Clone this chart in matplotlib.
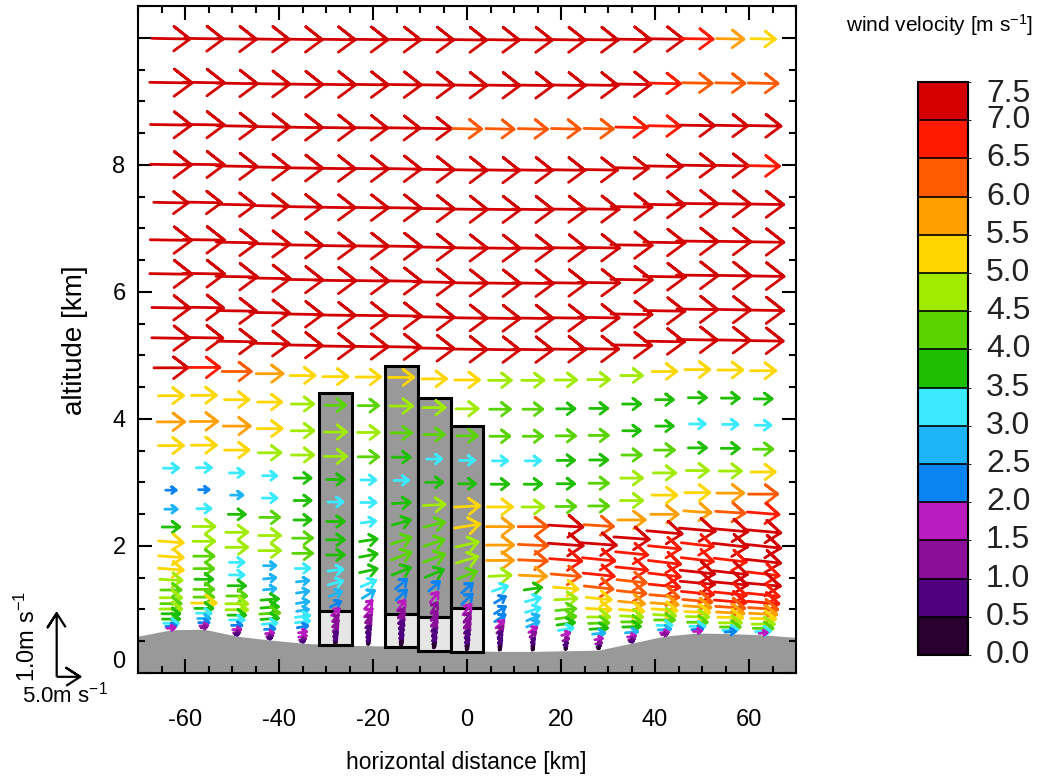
import numpy as np
import matplotlib
matplotlib.use('Agg')
import matplotlib.pyplot as plt
import matplotlib.cm as cm
from matplotlib.collections import LineCollection
from matplotlib.colors import ListedColormap, BoundaryNorm
from matplotlib.patches import Rectangle
from matplotlib.transforms import blended_transform_factory
from matplotlib.ticker import MultipleLocator

plt.rcParams['font.family'] = ['Liberation Sans', 'DejaVu Sans']
plt.rcParams['mathtext.fontset'] = 'custom'
plt.rcParams['mathtext.rm'] = 'Liberation Sans'
plt.rcParams['mathtext.it'] = 'Liberation Sans'
plt.rcParams['axes.unicode_minus'] = False

# grid columns (km) and model levels (km above flat ground)
col_x = [-63, -56, -49, -42, -35, -28, -21, -14, -7, 0, 7, 14, 21, 28, 35, 42, 49, 56, 63]
level_z = [9.95, 9.21, 8.50, 7.83, 7.19, 6.56, 5.99, 5.42, 4.91, 4.41, 3.94, 3.50, 3.10, 2.72,
           2.35, 2.03, 1.73, 1.48, 1.23, 1.02, 0.84, 0.67, 0.54, 0.44, 0.35, 0.27, 0.18, 0.11,
           0.06, 0.03]
model_top = 10.5

# terrain profile
terrain_x = [-70, -63, -56, -49, -42, -35, -28, -21, -14, -7, 0, 7, 14, 21, 28, 35, 42, 49, 56, 63, 70]
terrain_z = [0.58, 0.68, 0.69, 0.58, 0.52, 0.47, 0.44, 0.43, 0.42, 0.38, 0.35, 0.34, 0.34, 0.35,
             0.36, 0.47, 0.58, 0.63, 0.62, 0.60, 0.56]

# boxes over four columns
box_x = [-28, -14, -7, 0]
box_top = [4.41, 4.83, 4.33, 3.89]
box_mid = [0.98, 0.93, 0.88, 1.02]
box_base = [0.44, 0.41, 0.35, 0.33]

# horizontal wind (m/s), one row per level, one value per column
u_wind = [
    [8.1, 8.3, 8.4, 8.4, 8.4, 8.4, 8.3, 8.3, 8.3, 8.3, 8.3, 8.3, 8.3, 8.3, 8.3, 8.1, 6.7, 5.8, 5.2],
    [9.0, 8.8, 8.8, 8.6, 8.6, 8.6, 8.5, 8.5, 8.5, 8.5, 8.5, 8.5, 8.4, 8.3, 8.2, 6.8, 6.3, 6.2, 6.3],
    [8.7, 8.7, 8.6, 8.6, 8.5, 8.4, 8.2, 8.0, 7.4, 6.2, 6.0, 6.2, 6.1, 6.2, 6.7, 6.8, 7.3, 7.4, 7.6],
    [8.7, 8.7, 8.7, 8.6, 8.6, 8.5, 8.5, 8.5, 8.5, 8.5, 8.4, 8.4, 8.2, 8.0, 7.2, 7.6, 7.8, 7.8, 6.9],
    [7.3, 7.5, 7.8, 8.0, 8.2, 8.4, 8.5, 8.6, 8.7, 8.7, 8.7, 8.7, 8.7, 8.7, 8.7, 8.7, 8.7, 8.7, 8.7],
    [8.8, 8.8, 8.7, 8.7, 8.6, 8.6, 8.6, 8.7, 8.7, 8.7, 8.7, 8.7, 8.8, 8.8, 8.8, 8.8, 8.8, 8.8, 8.8],
    [9.0, 8.9, 8.8, 8.8, 8.7, 8.7, 8.7, 8.7, 8.7, 8.7, 8.8, 8.8, 8.8, 8.8, 8.8, 8.9, 8.9, 8.9, 8.9],
    [8.1, 8.3, 8.4, 8.5, 8.5, 8.5, 8.5, 8.6, 8.6, 8.6, 8.6, 8.7, 8.7, 8.7, 8.7, 8.7, 8.7, 8.7, 8.7],
    [8.1, 8.1, 8.2, 8.3, 8.4, 8.4, 8.4, 8.4, 8.5, 8.5, 8.5, 8.5, 8.5, 8.5, 8.5, 8.5, 8.5, 8.5, 8.5],
    [7.2, 6.8, 6.2, 5.7, 5.3, 5.3, 5.2, 5.3, 5.2, 5.2, 4.8, 4.7, 4.6, 4.6, 4.6, 5.2, 5.3, 5.3, 5.3],
    [5.3, 5.3, 5.2, 5.1, 4.7, 4.3, 4.3, 4.8, 4.7, 4.7, 4.4, 4.2, 3.9, 3.8, 3.8, 3.8, 3.8, 3.8, 3.8],
    [5.8, 5.8, 5.7, 5.3, 4.8, 4.7, 4.6, 4.3, 4.3, 4.3, 4.2, 4.1, 4.1, 4.1, 3.7, 3.7, 3.3, 3.3, 3.3],
    [5.3, 5.3, 5.2, 4.8, 4.7, 4.7, 4.3, 3.8, 3.2, 3.2, 3.2, 3.2, 3.7, 3.8, 4.1, 4.2, 3.8, 3.8, 4.1],
    [3.2, 3.2, 3.1, 3.0, 3.6, 3.7, 3.2, 3.1, 3.6, 3.6, 3.7, 3.7, 3.7, 4.1, 4.6, 4.7, 4.7, 4.7, 5.1],
    [2.2, 2.2, 2.6, 3.1, 3.6, 3.2, 3.2, 3.8, 4.6, 5.3, 5.3, 4.6, 4.2, 4.2, 4.7, 5.3, 5.3, 5.7, 6.2],
    [2.6, 3.0, 3.6, 4.2, 3.6, 3.7, 3.1, 3.8, 4.3, 5.3, 5.8, 6.2, 7.3, 6.3, 5.8, 5.8, 5.8, 6.2, 6.7],
    [3.7, 4.7, 4.6, 4.6, 4.2, 3.8, 3.7, 4.1, 4.2, 4.7, 5.8, 6.2, 7.4, 7.5, 7.5, 7.5, 7.6, 7.5, 7.5],
    [5.2, 4.6, 4.6, 4.6, 4.2, 3.7, 3.7, 4.1, 4.4, 4.6, 5.7, 6.1, 6.8, 6.9, 6.8, 6.8, 6.8, 7.3, 7.5],
    [5.2, 4.3, 3.1, 2.6, 3.1, 3.2, 3.7, 3.9, 3.9, 4.0, 4.7, 5.8, 6.2, 6.6, 6.7, 6.8, 6.8, 6.8, 7.4],
    [5.2, 4.2, 3.1, 2.6, 2.6, 3.1, 3.1, 2.4, 2.3, 2.3, 3.2, 3.7, 5.2, 6.1, 6.2, 6.7, 7.3, 7.3, 6.8],
    [4.7, 3.8, 3.7, 2.6, 2.6, 2.6, 2.6, 2.2, 1.7, 2.2, 2.3, 3.2, 4.7, 5.3, 6.1, 6.5, 7.3, 7.3, 7.3],
    [4.3, 4.2, 4.2, 3.7, 2.6, 2.2, 1.6, 1.6, 1.3, 1.7, 2.3, 3.1, 4.2, 5.2, 5.5, 6.2, 6.8, 6.8, 6.8],
    [4.6, 4.2, 4.6, 3.7, 2.5, 1.7, 1.6, 1.2, 1.2, 1.3, 2.2, 2.6, 4.2, 4.7, 5.2, 5.8, 6.2, 6.7, 6.7],
    [4.3, 5.2, 4.6, 4.2, 3.0, 1.2, 1.2, 1.0, 1.1, 1.2, 1.7, 2.6, 3.7, 4.3, 4.7, 5.3, 5.8, 6.2, 6.2],
    [4.6, 3.8, 3.7, 3.7, 3.0, 1.2, 1.1, 0.8, 1.0, 1.1, 1.3, 1.7, 3.1, 3.7, 4.2, 4.7, 5.3, 5.8, 5.8],
    [3.8, 3.1, 3.1, 3.1, 2.2, 1.0, 0.8, 0.7, 0.8, 0.8, 0.8, 1.2, 1.7, 2.6, 3.7, 4.2, 4.7, 5.3, 5.3],
    [3.6, 2.6, 2.2, 2.2, 1.7, 0.8, 0.7, 0.6, 0.7, 0.7, 0.7, 0.7, 1.2, 1.6, 2.6, 3.2, 4.2, 4.7, 4.7],
    [3.1, 2.2, 1.7, 1.7, 1.6, 0.6, 0.6, 0.5, 0.6, 0.6, 0.5, 0.5, 0.8, 1.2, 1.7, 2.6, 3.2, 4.2, 4.2],
    [2.2, 1.7, 1.3, 1.2, 1.2, 0.5, 0.5, 0.4, 0.4, 0.4, 0.4, 0.4, 0.5, 0.7, 1.2, 1.7, 2.3, 3.2, 3.2],
    [1.7, 1.2, 0.8, 0.8, 0.8, 0.3, 0.3, 0.3, 0.3, 0.3, 0.3, 0.3, 0.3, 0.4, 0.8, 1.2, 1.7, 2.2, 1.7],
]

# vertical wind (m/s)
w_wind = [
    [-0.01, -0.01, -0.01, -0.01, -0.01, -0.01, -0.01, -0.01, -0.01, -0.01, -0.01, -0.01, -0.01, -0.01, -0.01, -0.01, -0.01, -0.01, -0.01],
    [-0.01, -0.01, -0.01, -0.01, -0.01, -0.01, -0.01, -0.01, -0.01, -0.01, -0.01, -0.01, -0.01, -0.01, -0.01, -0.01, -0.01, -0.01, -0.01],
    [-0.01, -0.01, -0.01, -0.01, -0.01, -0.01, -0.01, -0.01, -0.01, -0.01, -0.01, -0.01, -0.01, -0.01, -0.01, -0.01, -0.01, -0.01, -0.01],
    [-0.01, -0.01, -0.01, -0.01, -0.01, -0.01, -0.01, -0.01, -0.01, -0.01, -0.01, -0.01, -0.01, -0.01, -0.01, -0.01, -0.01, -0.01, -0.01],
    [-0.01, -0.01, -0.01, -0.01, -0.01, -0.01, -0.01, -0.01, -0.01, -0.01, -0.01, -0.01, -0.01, -0.01, -0.01, -0.01, -0.01, -0.01, -0.01],
    [-0.01, -0.01, -0.01, -0.01, -0.01, -0.01, -0.01, -0.01, -0.01, -0.01, -0.01, -0.01, -0.01, -0.01, -0.01, -0.01, -0.01, -0.01, -0.01],
    [-0.01, -0.01, -0.01, -0.01, -0.01, -0.01, -0.01, -0.01, -0.01, -0.01, -0.01, -0.01, -0.01, -0.01, -0.01, -0.01, -0.01, -0.01, -0.01],
    [-0.01, -0.01, -0.01, -0.01, -0.01, -0.01, -0.01, -0.01, -0.01, -0.01, -0.01, -0.01, -0.01, -0.01, -0.01, -0.01, -0.01, -0.01, -0.01],
    [-0.01, -0.01, -0.01, -0.01, -0.01, -0.01, -0.01, -0.01, -0.01, -0.01, -0.01, -0.01, -0.01, -0.01, -0.01, -0.01, -0.01, -0.01, -0.01],
    [0.0, 0.0, 0.0, 0.0, 0.0, 0.0, 0.0, 0.0, 0.0, 0.0, 0.0, 0.0, 0.0, 0.0, 0.0, 0.0, 0.0, 0.0, 0.0],
    [0.0, 0.0, 0.0, 0.0, 0.0, 0.0, 0.0, 0.0, 0.0, 0.0, 0.0, 0.0, 0.0, 0.0, 0.0, 0.0, 0.0, 0.0, 0.0],
    [0.0, 0.0, 0.0, 0.0, 0.0, 0.0, 0.0, 0.0, 0.0, 0.0, 0.0, 0.0, 0.0, 0.0, 0.0, 0.0, 0.0, 0.0, 0.0],
    [0.0, 0.0, 0.0, 0.0, 0.0, 0.0, 0.0, 0.0, 0.0, 0.0, 0.0, 0.0, 0.0, 0.0, 0.0, 0.0, 0.0, 0.0, 0.0],
    [0.0, 0.0, 0.0, 0.0, 0.0, 0.0, 0.0, 0.0, 0.0, 0.0, 0.0, 0.0, 0.0, 0.0, 0.0, 0.0, 0.0, 0.0, 0.0],
    [0.0, 0.0, 0.0, 0.0, 0.0, 0.0, 0.0, 0.02, 0.02, 0.02, 0.0, 0.0, 0.0, 0.0, 0.0, 0.0, 0.0, 0.0, 0.0],
    [0.0, 0.0, 0.0, 0.0, 0.0, 0.0, 0.03, 0.08, 0.08, 0.06, 0.0, 0.0, -0.03, -0.03, 0.0, 0.0, -0.03, -0.03, -0.04],
    [0.0, 0.0, 0.0, 0.0, 0.0, 0.0, 0.04, 0.10, 0.10, 0.08, 0.0, -0.02, -0.04, -0.04, -0.04, -0.05, -0.05, -0.05, -0.05],
    [-0.03, 0.0, 0.0, 0.0, 0.0, 0.0, 0.05, 0.12, 0.12, 0.10, 0.0, -0.02, -0.04, -0.05, -0.05, -0.05, -0.06, -0.06, -0.06],
    [-0.03, 0.0, 0.0, 0.0, 0.0, 0.03, 0.06, 0.12, 0.12, 0.12, 0.02, -0.02, -0.04, -0.05, -0.05, -0.06, -0.06, -0.06, -0.06],
    [-0.03, 0.0, 0.0, 0.02, 0.02, 0.06, 0.10, 0.15, 0.15, 0.15, 0.08, 0.04, -0.03, -0.05, -0.05, -0.06, -0.06, -0.06, -0.06],
    [-0.02, 0.0, 0.0, 0.02, 0.03, 0.08, 0.12, 0.16, 0.16, 0.16, 0.10, 0.06, 0.02, -0.04, -0.05, -0.05, -0.05, -0.05, -0.05],
    [0.0, 0.0, 0.0, 0.02, 0.03, 0.09, 0.13, 0.16, 0.16, 0.16, 0.11, 0.07, 0.03, -0.02, -0.04, -0.04, -0.05, -0.05, -0.05],
    [0.0, 0.0, 0.0, 0.02, 0.03, 0.10, 0.13, 0.15, 0.15, 0.15, 0.11, 0.08, 0.04, 0.0, -0.03, -0.03, -0.04, -0.04, -0.04],
    [0.0, 0.0, 0.0, 0.02, 0.03, 0.10, 0.12, 0.14, 0.14, 0.14, 0.11, 0.08, 0.04, 0.01, -0.02, -0.03, -0.03, -0.03, -0.03],
    [0.0, 0.0, 0.0, 0.02, 0.03, 0.10, 0.11, 0.13, 0.13, 0.13, 0.10, 0.08, 0.04, 0.02, 0.0, -0.02, -0.02, -0.02, -0.02],
    [0.0, 0.0, 0.0, 0.02, 0.03, 0.09, 0.10, 0.11, 0.11, 0.11, 0.09, 0.07, 0.04, 0.02, 0.01, 0.0, -0.01, -0.01, -0.01],
    [0.0, 0.0, 0.0, 0.01, 0.02, 0.08, 0.08, 0.09, 0.09, 0.09, 0.08, 0.06, 0.04, 0.02, 0.02, 0.0, 0.0, 0.0, 0.0],
    [0.0, 0.0, 0.0, 0.01, 0.02, 0.06, 0.06, 0.07, 0.07, 0.07, 0.06, 0.05, 0.03, 0.02, 0.02, 0.01, 0.0, 0.0, 0.0],
    [0.01, 0.01, 0.01, 0.01, 0.02, 0.04, 0.04, 0.05, 0.05, 0.05, 0.04, 0.03, 0.02, 0.02, 0.02, 0.01, 0.01, 0.01, 0.01],
    [0.01, 0.01, 0.01, 0.01, 0.01, 0.02, 0.02, 0.03, 0.03, 0.03, 0.02, 0.02, 0.01, 0.01, 0.01, 0.01, 0.01, 0.01, 0.01],
]

speed_bounds = [0.0, 0.5, 1.0, 1.5, 2.0, 2.5, 3.0, 3.5, 4.0, 4.5, 5.0, 5.5, 6.0, 6.5, 7.0, 7.5]
speed_colors = ['#2a0030', '#50007f', '#8a0e98', '#b81cbe', '#0a84f0', '#1eb4f8', '#3ceaff',
                '#1ebe00', '#5ad400', '#a0eb00', '#ffd700', '#ffa000', '#ff5a00', '#ff1a00', '#d40000']

fig = plt.figure(figsize=(10.55, 7.82), dpi=100)
ax = fig.add_axes([138 / 1055, 109 / 782, 658 / 1055, 667 / 782])
ax.set_xlim(-70, 70)
ax.set_ylim(0, 10.5)

cmap = ListedColormap(speed_colors)
norm = BoundaryNorm(speed_bounds, cmap.N)


def arrow_lines(x0, z0, u, w, head=None):
    # arrows are 1 km long per m/s in both directions, open V heads
    x0, z0, u, w = map(np.ravel, (x0, z0, u, w))
    tail = ax.transData.transform(np.column_stack([x0 - u / 2, z0 - w / 2]))
    tip = ax.transData.transform(np.column_stack([x0 + u / 2, z0 + w / 2]))
    d = tip - tail
    L = np.hypot(d[:, 0], d[:, 1])
    e = d / L[:, None]
    n = np.column_stack([-e[:, 1], e[:, 0]])
    if head is None:
        hl, hw = 0.42 * L, 0.32 * L
    else:
        hl, hw = np.full(len(L), head[0]), np.full(len(L), head[1])
    b1 = tip - e * hl[:, None] + n * hw[:, None]
    b2 = tip - e * hl[:, None] - n * hw[:, None]
    inv = ax.transData.inverted()
    return [inv.transform(np.array([tail[i], tip[i], b1[i], tip[i], b2[i]])) for i in range(len(L))]


# terrain and boxes
ax.fill_between(terrain_x, 0, terrain_z, color='#999999', lw=0, zorder=1)
for bx, top, mid, base in zip(box_x, box_top, box_mid, box_base):
    ax.add_patch(Rectangle((bx - 3.5, mid), 7, top - mid, fc='#999999', ec='black', lw=2.2, zorder=2))
    ax.add_patch(Rectangle((bx - 3.5, base), 7, mid - base, fc='#e6e6e6', ec='black', lw=2.2, zorder=2))

# wind arrows on terrain-following levels
U = np.array(u_wind)
W = np.array(w_wind)
zs = np.array(terrain_z[1:-1])
XX, ZZ = np.meshgrid(col_x, level_z)
ZZ = zs[None, :] + ZZ * (1 - zs[None, :] / model_top)
lines = arrow_lines(XX, ZZ, U, W)
spd = np.hypot(U, W).ravel()
lc = LineCollection(lines, colors=cmap(norm(spd)), linewidths=2.0, capstyle='round',
                    joinstyle='round', zorder=3)
ax.add_collection(lc)

# axes styling
ax.set_xticks([-60, -40, -20, 0, 20, 40, 60])
ax.set_yticks([0, 2, 4, 6, 8, 10])
ax.set_yticklabels(['0', '2', '4', '6', '8', ''])
ax.xaxis.set_minor_locator(MultipleLocator(5))
ax.yaxis.set_minor_locator(MultipleLocator(0.5))
ax.tick_params(which='both', direction='in', top=True, right=True, width=1.5)
ax.tick_params(which='major', length=10)
ax.tick_params(which='minor', length=5)
ax.tick_params(axis='x', labelsize=17, pad=26)
ax.tick_params(axis='y', labelsize=17, pad=9)
ax.yaxis.get_major_ticks()[0].label1.set_verticalalignment('bottom')
for s in ax.spines.values():
    s.set_linewidth(1.5)

fig.text(466 / 1055, 1 - 763 / 782, 'horizontal distance [km]', ha='center', va='center', fontsize=16.5)
fig.text(75 / 1055, 1 - 340 / 782, 'altitude [km]', ha='center', va='center', rotation=90, fontsize=20)

# reference arrows
key_x, key_z = -87.3, -0.06
key = arrow_lines([key_x, key_x + 2.5], [key_z + 0.5, key_z], [0.0, 5.0], [1.0, 0.0], head=(14, 9))
ax.add_collection(LineCollection(key, colors='black', linewidths=1.6, clip_on=False, zorder=3))
fig.text(27 / 1055, 1 - 636 / 782, '1.0m s$^{-1}$', rotation=90, ha='center', va='center', fontsize=17)
fig.text(65 / 1055, 1 - 695 / 782, '5.0m s$^{-1}$', ha='center', va='center', fontsize=16)

# colour bar
cax = fig.add_axes([918 / 1055, 127 / 782, 50 / 1055, 573 / 782])
sm = cm.ScalarMappable(norm=norm, cmap=cmap)
cb = fig.colorbar(sm, cax=cax, drawedges=True)
cb.set_ticks([])
cax.tick_params(length=0)
cb.outline.set_linewidth(1.5)
cb.dividers.set_linewidth(1.2)
tr = blended_transform_factory(cax.transAxes, cax.transData)
for v in speed_bounds:
    yv = v if v < 7.5 else 7.34
    cax.text(1.36, yv, f'{v:.1f}', transform=tr, ha='left', va='center', fontsize=23, color='#222222')
fig.text(940 / 1055, 1 - 25 / 782, 'wind velocity [m s$^{-1}$]', ha='center', va='center', fontsize=15)

fig.savefig('out.png', dpi=100)
